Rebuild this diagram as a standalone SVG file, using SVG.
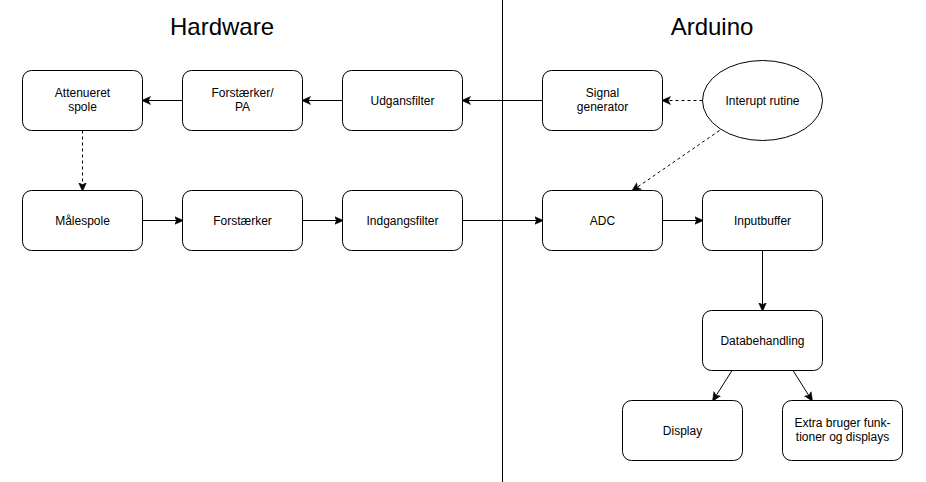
<svg xmlns="http://www.w3.org/2000/svg" width="926" height="482" viewBox="0 0 926 482">
<style>
.box{fill:#fff;stroke:#000;stroke-width:1}
.t{font-family:"Liberation Sans",Arial,sans-serif;font-size:12px;fill:#000;text-anchor:middle}
.title{font-family:"Liberation Sans",Arial,sans-serif;font-size:24px;fill:#000;text-anchor:middle}
.c{fill:none;stroke:#000;stroke-width:1}
.d{stroke-dasharray:3 3}
</style>
<defs>
<marker id="ah" markerWidth="10" markerHeight="10" refX="8" refY="4" orient="auto" markerUnits="userSpaceOnUse" viewBox="0 0 10 8">
<path d="M0,0 L9,4 L0,8 L2.2,4 Z" fill="#000" stroke="#000" stroke-width="0.5"/>
</marker>
</defs>
<rect width="926" height="482" fill="#fff"/>
<line x1="502.5" y1="0" x2="502.5" y2="482" stroke="#000" stroke-width="1"/>
<text class="title" x="222" y="35">Hardware</text>
<text class="title" x="712" y="35">Arduino</text>
<g id="connectors">
<path class="c" d="M542.5,100.5 L462.5,100.5" marker-end="url(#ah)"/>
<path class="c" d="M342.5,100.5 L302.5,100.5" marker-end="url(#ah)"/>
<path class="c" d="M182.5,100.5 L142.5,100.5" marker-end="url(#ah)"/>
<path class="c d" d="M702.5,100.5 L662.5,100.5" marker-end="url(#ah)"/>
<path class="c d" d="M719.5,130.5 L632.5,190.5" marker-end="url(#ah)"/>
<path class="c d" d="M82.5,130.5 L82.5,190.5" marker-end="url(#ah)"/>
<path class="c" d="M142.5,220.5 L182.5,220.5" marker-end="url(#ah)"/>
<path class="c" d="M302.5,220.5 L342.5,220.5" marker-end="url(#ah)"/>
<path class="c" d="M462.5,220.5 L542.5,220.5" marker-end="url(#ah)"/>
<path class="c" d="M662.5,220.5 L702.5,220.5" marker-end="url(#ah)"/>
<path class="c" d="M762.5,250.5 L762.5,310.5" marker-end="url(#ah)"/>
<path class="c" d="M732,370.5 L713,400.5" marker-end="url(#ah)"/>
<path class="c" d="M793,370.5 L812,400.5" marker-end="url(#ah)"/>
</g>
<g id="attenueret"><rect class="box" x="22.5" y="70.5" width="120" height="60" rx="9"/><text class="t" x="82.5" y="97">Attenueret</text><text class="t" x="82.5" y="111">spole</text></g>
<g id="forstaerker-pa"><rect class="box" x="182.5" y="70.5" width="120" height="60" rx="9"/><text class="t" x="242.5" y="97">Forstærker/</text><text class="t" x="242.5" y="111">PA</text></g>
<g id="udgansfilter"><rect class="box" x="342.5" y="70.5" width="120" height="60" rx="9"/><text class="t" x="402.5" y="104.5">Udgansfilter</text></g>
<g id="signalgen"><rect class="box" x="542.5" y="70.5" width="120" height="60" rx="9"/><text class="t" x="602.5" y="97">Signal</text><text class="t" x="602.5" y="111">generator</text></g>
<g id="interupt"><ellipse class="box" cx="762.5" cy="100.5" rx="60" ry="40"/><text class="t" x="762.5" y="104.5">Interupt rutine</text></g>
<g id="maalespole"><rect class="box" x="22.5" y="190.5" width="120" height="60" rx="9"/><text class="t" x="82.5" y="224.5">Målespole</text></g>
<g id="forstaerker"><rect class="box" x="182.5" y="190.5" width="120" height="60" rx="9"/><text class="t" x="242.5" y="224.5">Forstærker</text></g>
<g id="indgangsfilter"><rect class="box" x="342.5" y="190.5" width="120" height="60" rx="9"/><text class="t" x="402.5" y="224.5">Indgangsfilter</text></g>
<g id="adc"><rect class="box" x="542.5" y="190.5" width="120" height="60" rx="9"/><text class="t" x="602.5" y="224.5">ADC</text></g>
<g id="inputbuffer"><rect class="box" x="702.5" y="190.5" width="120" height="60" rx="9"/><text class="t" x="762.5" y="224.5">Inputbuffer</text></g>
<g id="databehandling"><rect class="box" x="702.5" y="310.5" width="120" height="60" rx="9"/><text class="t" x="762.5" y="344.5">Databehandling</text></g>
<g id="display"><rect class="box" x="622.5" y="400.5" width="120" height="60" rx="9"/><text class="t" x="682.5" y="434.5">Display</text></g>
<g id="extra"><rect class="box" x="782.5" y="400.5" width="120" height="60" rx="9"/><text class="t" x="842.5" y="427">Extra bruger funk-</text><text class="t" x="842.5" y="441">tioner og displays</text></g>
</svg>
